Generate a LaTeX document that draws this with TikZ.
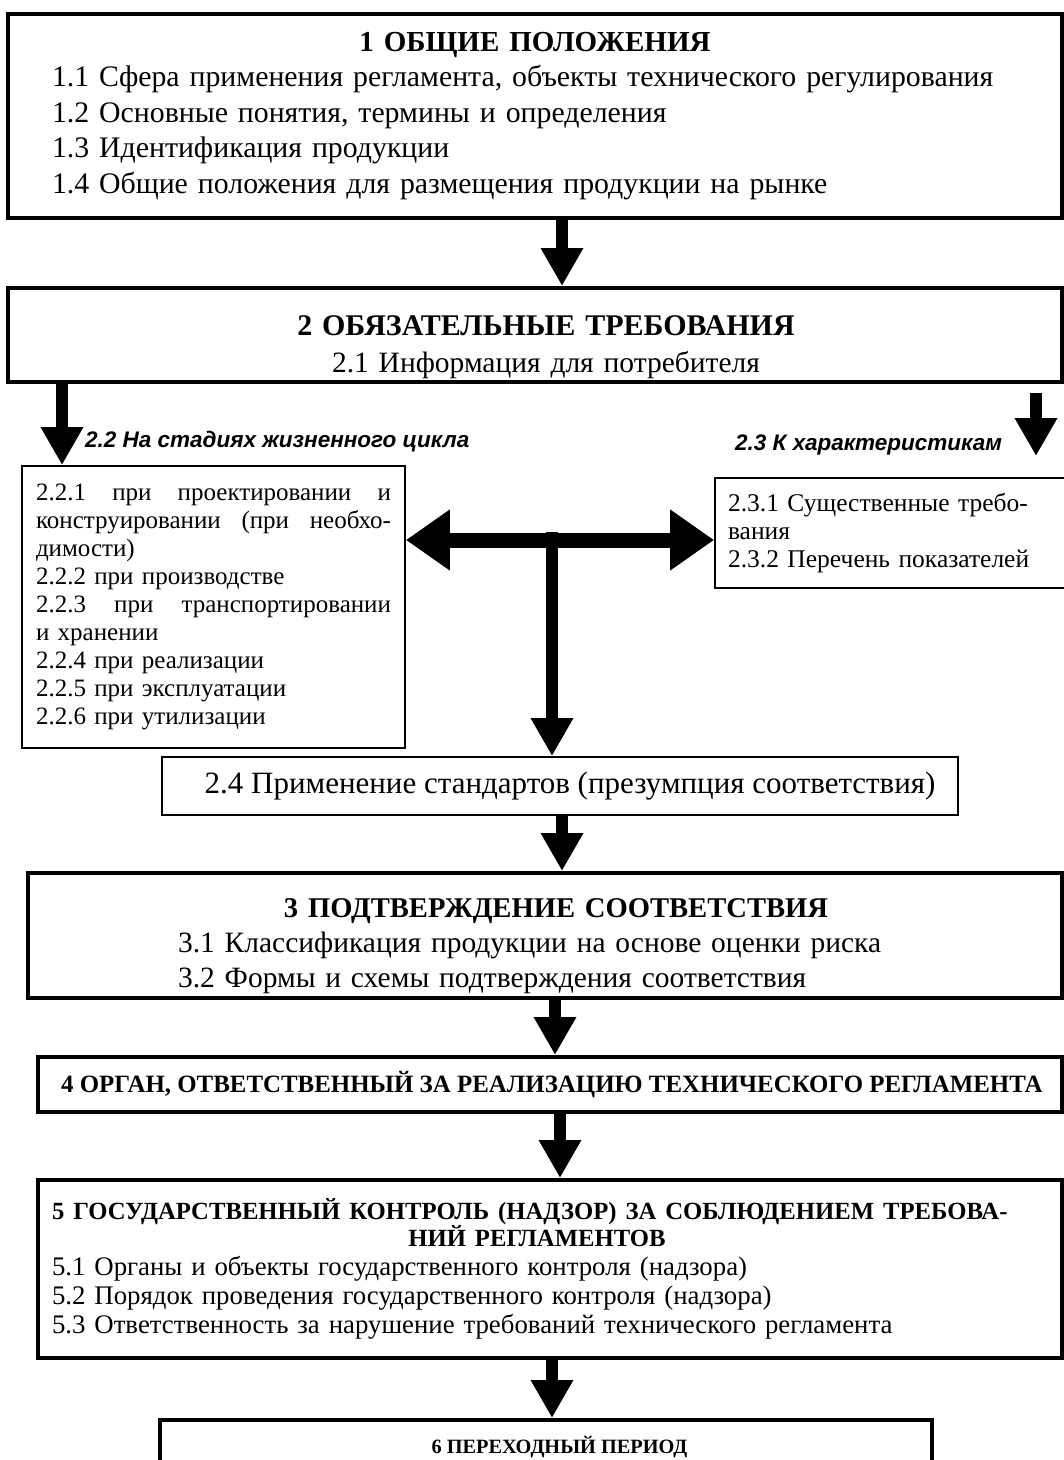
\documentclass[tikz,border=0pt]{standalone}
\usepackage{fontspec}
\setmainfont{Liberation Serif}
\newfontfamily\labelfont{Liberation Sans}
\usetikzlibrary{arrows.meta}

\newcommand{\fullline}[1]{{\spaceskip=0pt\xspaceskip=0pt\makebox[\hsize][s]{#1}}}

\begin{document}
\begin{tikzpicture}[x=1pt, y=-1pt,
    bigbox/.style={draw, line width=4pt, align=left, inner sep=0pt},
    thinbox/.style={draw, line width=1.8pt, align=left, inner sep=0pt},
    flow/.style={line width=12pt, -{Triangle[width=40pt,length=38pt]}},
    sidearrow/.style={line width=15pt, -{Triangle[width=58pt,length=44pt]}},
    steplabel/.style={font=\labelfont\bfseries\itshape\fontsize{22.5}{26}\selectfont, inner sep=0pt}]
        \useasboundingbox (0,0) rectangle (1064,1460);
        \fill[white] (0,0) rectangle (1064,1460);

        % Node definitions
        \node (sec1) [bigbox, minimum width=1054pt, minimum height=204pt, text width=966pt,
            font=\fontsize{29.8}{35.5}\selectfont] at (535,116) {
            {\centering\bfseries\fontsize{29}{35.5}\selectfont 1 ОБЩИЕ ПОЛОЖЕНИЯ\par}
            1.1 Сфера применения регламента, объекты технического регулирования\\
            1.2 Основные понятия, термины и определения\\
            1.3 Идентификация продукции\\
            1.4 Общие положения для размещения продукции на рынке
        };

        \node (sec2) [bigbox, minimum width=1054pt, minimum height=94pt, text width=1000pt,
            align=center, font=\fontsize{29.5}{37}\selectfont] at (535,335) {
            \hspace*{22pt}\rule{0pt}{44pt}\textbf{\fontsize{30}{37}\selectfont 2 ОБЯЗАТЕЛЬНЫЕ ТРЕБОВАНИЯ}\\
            \hspace*{22pt}2.1 Информация для потребителя
        };

        \node (stages) [steplabel, anchor=west] at (85,442) {2.2 На стадиях жизненного цикла};
        \node (props) [steplabel, anchor=west] at (735,445) {2.3 К характеристикам};

        \node (sec22) [thinbox, minimum width=383pt, minimum height=282pt, text width=355pt,
            font=\fontsize{25}{28.1}\selectfont] at (213.5,607) {
            \fullline{2.2.1 при проектировании и}\\
            \fullline{конструировании (при необхо-}\\
            димости)\\
            2.2.2 при производстве\\
            \fullline{2.2.3 при транспортировании}\\
            и хранении\\
            2.2.4 при реализации\\
            2.2.5 при эксплуатации\\
            2.2.6 при утилизации
        };

        \node (sec23) [thinbox, minimum width=355pt, minimum height=110pt, text width=329pt,
            font=\fontsize{25.5}{28}\selectfont] at (892.5,533) {
            2.3.1 Существенные требо-\\
            вания\\
            2.3.2 Перечень показателей
        };

        \node (sec24) [thinbox, minimum width=796pt, minimum height=58pt,
            font=\fontsize{31}{36}\selectfont] at (560,786) {
            \hspace*{28pt}2.4 Применение стандартов (презумпция соответствия)
        };

        \node (sec3) [bigbox, minimum width=1034pt, minimum height=125pt, text width=734pt,
            font=\fontsize{29.5}{35}\selectfont] at (545,935.5) {
            {\centering\bfseries\fontsize{28.6}{35}\selectfont\hspace*{22pt}\rule{0pt}{40pt}3 ПОДТВЕРЖДЕНИЕ СООТВЕТСТВИЯ\par}
            3.1 Классификация продукции на основе оценки риска\\
            3.2 Формы и схемы подтверждения соответствия
        };

        \node (sec4) [bigbox, minimum width=1024pt, minimum height=55pt,
            font=\bfseries\fontsize{24.9}{28}\selectfont] at (550,1084.5) {
            \hspace*{10pt}4 ОРГАН, ОТВЕТСТВЕННЫЙ ЗА РЕАЛИЗАЦИЮ ТЕХНИЧЕСКОГО РЕГЛАМЕНТА
        };

        \node (sec5) [bigbox, minimum width=1024pt, minimum height=178pt, text width=996pt,
            font=\fontsize{26.8}{29}\selectfont] at (550,1269) {
            {\bfseries\fontsize{24.7}{25}\selectfont 5 ГОСУДАРСТВЕННЫЙ КОНТРОЛЬ (НАДЗОР) ЗА СОБЛЮДЕНИЕМ ТРЕБОВА-\par
            \centering НИЙ РЕГЛАМЕНТОВ\hspace*{26pt}\par}
            5.1 Органы и объекты государственного контроля (надзора)\\
            5.2 Порядок проведения государственного контроля (надзора)\\
            5.3 Ответственность за нарушение требований технического регламента
        };

        \node (sec6) [bigbox, anchor=north, minimum width=772pt, inner ysep=16pt,
            font=\bfseries\fontsize{20.3}{25}\selectfont] at (546,1418) {
            \hspace*{32pt}6 ПЕРЕХОДНЫЙ ПЕРИОД
        };

        % Connectors
        \coordinate (fork) at (552,540);
        \coordinate (propsTop) at (1036,393);
        \coordinate (propsEnd) at (1036,456);

        \draw[flow] ([xshift=27pt]sec1.south) -- ([xshift=27pt]sec2.north);
        \draw[flow] ([xshift=-473pt]sec2.south) -- ([xshift=-151.5pt]sec22.north);
        \draw[flow] (propsTop) -- (propsEnd);
        \draw[sidearrow] (fork) -- (fork -| sec22.east);
        \draw[sidearrow] (fork) -- (fork -| sec23.west);
        \draw[flow] ([yshift=8pt]fork) -- (fork |- sec24.north);
        \draw[flow] ([xshift=2pt]sec24.south) -- ([xshift=17pt]sec3.north);
        \draw[flow] ([xshift=10pt]sec3.south) -- ([xshift=5pt]sec4.north);
        \draw[flow] ([xshift=10pt]sec4.south) -- ([xshift=10pt]sec5.north);
        \draw[flow] ([xshift=2pt]sec5.south) -- ([xshift=6pt]sec6.north);
\end{tikzpicture}
\end{document}
